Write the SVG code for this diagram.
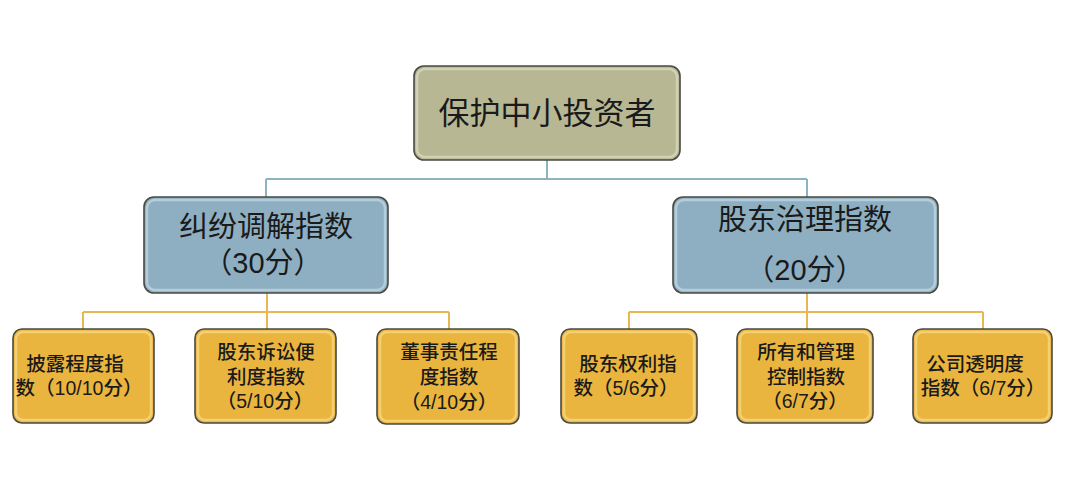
<svg xmlns="http://www.w3.org/2000/svg" width="1080" height="491" viewBox="0 0 1080 491">
<style>
text{font-family:"Liberation Sans","Noto Sans CJK SC",sans-serif;fill:#1a1a1a;text-anchor:middle;dominant-baseline:central}
.box{stroke:#4a4a42;stroke-width:1.6}
.hl{fill:none;stroke-width:2.5;stroke-opacity:0.55}
.top{fill:#b7b794}
.mid{fill:#8eafc2}
.leaf{fill:#e9b53e}
.t1{font-size:31px}
.t2{font-size:29px}
.t3{font-size:19.5px;font-weight:500}
.cb{stroke:#8db3c3;stroke-width:2;fill:none}
.cg{stroke:#e6b752;stroke-width:2;fill:none}
</style>
<rect width="1080" height="491" fill="#ffffff"/>
<g id="connectors">
<path class="cb" d="M547 160V179M266 179H807M266 179V197M807 179V197"/>
<path class="cg" d="M267 293V312M83 312H449M83 312V329M267 312V329M449 312V329"/>
<path class="cg" d="M807 293V312M629 312H983M629 312V329M807 312V329M983 312V329"/>
</g>
<g id="n-root">
<rect class="box top" x="414" y="66" width="266" height="94" rx="10"/>
<rect class="hl" x="417" y="69" width="260" height="88" rx="8" stroke="#e8e8d2"/>
<text class="t1" x="547" y="113">保护中小投资者</text>
</g>
<g id="n-dispute">
<rect class="box mid" x="144" y="197" width="244" height="96" rx="10"/>
<rect class="hl" x="147" y="200" width="238" height="90" rx="8" stroke="#d6e6ee"/>
<text class="t2"><tspan x="266" y="227">纠纷调解指数</tspan><tspan x="263" y="263">（30分）</tspan></text>
</g>
<g id="n-governance">
<rect class="box mid" x="673" y="197" width="265" height="96" rx="10"/>
<rect class="hl" x="676" y="200" width="259" height="90" rx="8" stroke="#d6e6ee"/>
<text class="t2"><tspan x="805" y="220">股东治理指数</tspan><tspan x="805" y="270">（20分）</tspan></text>
</g>
<g id="n-disclosure">
<rect class="box leaf" x="13" y="329" width="141" height="94" rx="9"/>
<rect class="hl" x="16" y="332" width="135" height="88" rx="7" stroke="#fbe6a8"/>
<text class="t3"><tspan x="75" y="364">披露程度指</tspan><tspan x="79" y="388">数（10/10分）</tspan></text>
</g>
<g id="n-suit">
<rect class="box leaf" x="195" y="329" width="141" height="94" rx="9"/>
<rect class="hl" x="198" y="332" width="135" height="88" rx="7" stroke="#fbe6a8"/>
<text class="t3"><tspan x="266" y="352">股东诉讼便</tspan><tspan x="266" y="377">利度指数</tspan><tspan x="265" y="401">（5/10分）</tspan></text>
</g>
<g id="n-director">
<rect class="box leaf" x="377" y="329" width="142" height="95" rx="9"/>
<rect class="hl" x="380" y="332" width="136" height="89" rx="7" stroke="#fbe6a8"/>
<text class="t3"><tspan x="449" y="352">董事责任程</tspan><tspan x="449" y="377">度指数</tspan><tspan x="449" y="402">（4/10分）</tspan></text>
</g>
<g id="n-rights">
<rect class="box leaf" x="561" y="329" width="136" height="94" rx="9"/>
<rect class="hl" x="564" y="332" width="130" height="88" rx="7" stroke="#fbe6a8"/>
<text class="t3"><tspan x="628" y="364">股东权利指</tspan><tspan x="626" y="388">数（5/6分）</tspan></text>
</g>
<g id="n-ownership">
<rect class="box leaf" x="737" y="329" width="136" height="94" rx="9"/>
<rect class="hl" x="740" y="332" width="130" height="88" rx="7" stroke="#fbe6a8"/>
<text class="t3"><tspan x="806" y="352">所有和管理</tspan><tspan x="806" y="377">控制指数</tspan><tspan x="805" y="401">（6/7分）</tspan></text>
</g>
<g id="n-transparency">
<rect class="box leaf" x="913" y="329" width="139" height="94" rx="9"/>
<rect class="hl" x="916" y="332" width="133" height="88" rx="7" stroke="#fbe6a8"/>
<text class="t3"><tspan x="975" y="364">公司透明度</tspan><tspan x="983" y="388">指数（6/7分）</tspan></text>
</g>
</svg>
